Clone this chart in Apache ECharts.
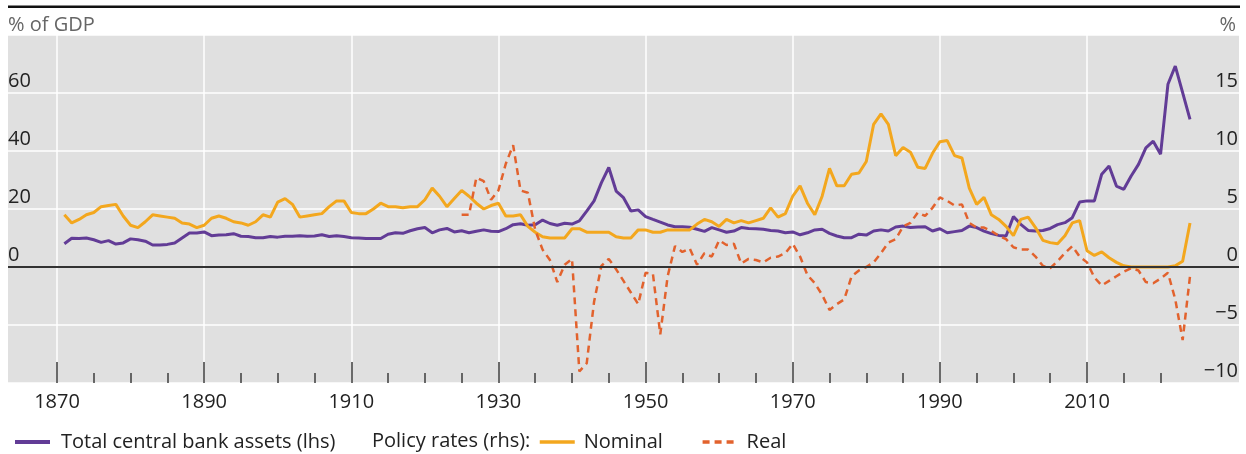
<!DOCTYPE html>
<html>
<head>
<meta charset="utf-8">
<script src="https://cdn.jsdelivr.net/npm/echarts@6/dist/echarts.min.js"></script>
<style>
  html, body { margin: 0; padding: 0; background: #fff; }
  #chart { width: 1246px; height: 454px; }
</style>
</head>
<body>
<div id="chart"></div>
<script>
// total central bank assets, % of GDP (lhs), annual from 1871
const assetsStart = 1871;
const assets = [
  8.0, 9.9, 9.8, 10.0, 9.4, 8.5, 9.1, 7.9, 8.3,                 // 1871-1879
  9.7, 9.4, 8.9, 7.6, 7.6, 7.8, 8.3, 10.0, 11.7, 11.7,          // 1880s
  12.1, 10.8, 11.0, 11.1, 11.5, 10.6, 10.5, 10.1, 10.1, 10.5,   // 1890s
  10.3, 10.6, 10.6, 10.8, 10.6, 10.7, 11.1, 10.5, 10.8, 10.5,   // 1900s
  10.1, 10.0, 9.8, 9.8, 9.8, 11.3, 11.8, 11.6, 12.5, 13.2,      // 1910s
  13.6, 11.8, 12.8, 13.3, 12.1, 12.5, 11.8, 12.3, 12.8, 12.3,   // 1920s
  12.2, 13.2, 14.6, 14.9, 14.4, 14.6, 16.2, 15.0, 14.4, 15.1,   // 1930s
  14.8, 15.9, 19.3, 22.8, 29.1, 34.3, 26.2, 23.9, 19.3, 19.7,   // 1940s
  17.4, 16.4, 15.5, 14.5, 13.9, 13.9, 13.7, 13.0, 12.3, 13.6,   // 1950s
  12.8, 12.0, 12.4, 13.6, 13.3, 13.2, 13.0, 12.6, 12.4, 11.8,   // 1960s
  12.1, 11.1, 11.8, 12.8, 13.0, 11.6, 10.7, 10.1, 10.1, 11.3,   // 1970s
  11.0, 12.4, 12.8, 12.4, 13.8, 14.1, 13.6, 13.8, 13.9, 12.4,   // 1980s
  13.2, 11.8, 12.2, 12.6, 14.1, 13.6, 12.4, 11.5, 10.9, 10.7,   // 1990s
  17.4, 14.7, 12.6, 12.4, 12.6, 13.3, 14.6, 15.3, 17.0, 22.4,   // 2000s
  22.8, 22.8, 32.0, 34.8, 27.9, 26.8, 31.4, 35.4, 41.1, 43.4,   // 2010s
  38.9, 63.0, 69.3, 60.1, 50.9                                  // 2020-2024
];

// nominal policy rate, % (rhs), annual from 1871
const nominalStart = 1871;
const nominal = [
  4.5, 3.8, 4.1, 4.5, 4.7, 5.2, 5.3, 5.4, 4.4,                  // 1871-1879
  3.6, 3.4, 3.9, 4.5, 4.4, 4.3, 4.2, 3.8, 3.7, 3.4,             // 1880s
  3.6, 4.2, 4.4, 4.2, 3.9, 3.8, 3.6, 3.9, 4.5, 4.3,             // 1890s
  5.6, 5.9, 5.4, 4.3, 4.4, 4.5, 4.6, 5.2, 5.7, 5.7,             // 1900s
  4.7, 4.6, 4.6, 5.0, 5.5, 5.2, 5.2, 5.1, 5.2, 5.2,             // 1910s
  5.8, 6.8, 6.1, 5.2, 5.9, 6.6, 6.1, 5.5, 5.0, 5.3,             // 1920s
  5.5, 4.4, 4.4, 4.5, 3.5, 3.0, 2.6, 2.5, 2.5, 2.5,             // 1930s
  3.3, 3.3, 3.0, 3.0, 3.0, 3.0, 2.6, 2.5, 2.5, 3.2,             // 1940s
  3.2, 3.0, 3.0, 3.2, 3.2, 3.2, 3.2, 3.7, 4.1, 3.9,             // 1950s
  3.5, 4.1, 3.8, 4.0, 3.8, 4.0, 4.2, 5.1, 4.3, 4.6,             // 1960s
  6.1, 7.0, 5.5, 4.5, 6.1, 8.5, 7.0, 7.0, 8.0, 8.1,             // 1970s
  9.1, 12.3, 13.2, 12.3, 9.6, 10.3, 9.9, 8.6, 8.5, 9.8,         // 1980s
  10.8, 10.9, 9.6, 9.4, 6.8, 5.4, 6.0, 4.5, 4.1, 3.5,           // 1990s
  2.7, 4.1, 4.3, 3.4, 2.3, 2.1, 2.0, 2.7, 3.8, 4.0,             // 2000s
  1.4, 1.0, 1.3, 0.8, 0.4, 0.1, 0.0, 0.0, 0.0, 0.0,             // 2010s
  0.0, 0.0, 0.1, 0.5, 3.8                                       // 2020-2024
];

// real policy rate, % (rhs), annual from 1925
const realStart = 1925;
const real = [
  4.5, 4.5, 7.7, 7.4, 5.8,                                      // 1925-1929
  6.6, 8.9, 10.5, 6.6, 6.4, 3.2, 1.5, 0.6, -1.3, 0.2,           // 1930s
  0.7, -9.0, -8.3, -3.0, 0.1, 0.7, -0.2, -1.2, -2.2, -3.2,      // 1940s
  -0.5, -0.6, -5.8, -0.8, 1.8, 1.3, 1.6, 0.2, 1.2, 0.9,         // 1950s
  2.3, 1.9, 2.0, 0.3, 0.7, 0.6, 0.4, 0.8, 0.9, 1.2,             // 1960s
  2.0, 0.9, -0.7, -1.4, -2.4, -3.7, -3.2, -2.8, -0.8, -0.3,     // 1970s
  0.0, 0.4, 1.2, 2.1, 2.4, 3.5, 3.8, 4.7, 4.4, 5.1,             // 1980s
  6.0, 5.7, 5.3, 5.4, 3.8, 3.4, 3.4, 3.1, 2.7, 2.4,             // 1990s
  1.7, 1.5, 1.5, 0.9, 0.1, -0.1, 0.5, 1.2, 1.8, 0.9,            // 2000s
  0.4, -0.9, -1.6, -1.2, -0.8, -0.4, -0.1, -0.3, -1.3, -1.4,    // 2010s
  -1.0, -0.5, -2.8, -6.3, -0.8                                  // 2020-2024
];

// axis ticks
const majorYears = [1870, 1890, 1910, 1930, 1950, 1970, 1990, 2010];
const minorYears = [1875, 1880, 1885, 1895, 1900, 1905, 1915, 1920, 1925,
  1935, 1940, 1945, 1955, 1960, 1965, 1975, 1980, 1985, 1995, 2000, 2005,
  2015, 2020];
const lhsLabels = [0, 20, 40, 60];
const rhsLabels = [-10, -5, 0, 5, 10, 15];

const withYears = (start, vals) => vals.map((v, i) => [start + i, v]);

const FONT = '"Open Sans", "Noto Sans", sans-serif';
const FS = 20;
const purple = '#623c96';
const yellow = '#f3a71e';
const orange = '#e2622d';

const chart = echarts.init(document.getElementById('chart'), null, { renderer: 'canvas' });

chart.setOption({
  animation: false,
  textStyle: { fontFamily: FONT },
  grid: {
    left: 8, right: 7, top: 35, bottom: 71,
    show: true, backgroundColor: '#e0e0e0', borderWidth: 0
  },
  xAxis: [
    {
      type: 'value', min: 1863.34, max: 2030.66,
      axisLine: { show: false, onZero: false },
      axisTick: {
        inside: true, length: 21, customValues: majorYears,
        lineStyle: { color: '#3c3c3c', width: 1.5 }
      },
      axisLabel: {
        customValues: majorYears, margin: 9,
        color: '#222', fontSize: FS, fontFamily: FONT,
        formatter: v => String(v)
      },
      splitLine: { show: true, lineStyle: { color: '#fff', width: 1.5 } }
    },
    {
      type: 'value', min: 1863.34, max: 2030.66, position: 'bottom',
      axisLine: { show: false, onZero: false },
      axisTick: {
        inside: true, length: 10, customValues: minorYears,
        lineStyle: { color: '#3c3c3c', width: 1.5 }
      },
      axisLabel: { show: false },
      splitLine: { show: false }
    }
  ],
  yAxis: [
    {
      type: 'value', min: -40, max: 80, interval: 20, position: 'left',
      name: '% of GDP', nameLocation: 'end', nameGap: 0,
      nameTextStyle: { align: 'left', color: '#666', fontSize: FS, fontFamily: FONT },
      axisLine: { show: false }, axisTick: { show: false },
      axisLabel: {
        inside: true, margin: 0, color: '#222', fontSize: FS, fontFamily: FONT,
        verticalAlign: 'bottom', lineHeight: 24,
        formatter: v => (lhsLabels.indexOf(v) >= 0 ? String(v) : '')
      },
      splitLine: { show: true, lineStyle: { color: '#fff', width: 1.5 } }
    },
    {
      type: 'value', min: -10, max: 20, interval: 5, position: 'right',
      name: '%', nameLocation: 'end', nameGap: 0,
      nameTextStyle: { align: 'right', color: '#666', fontSize: FS, fontFamily: FONT, padding: [0, 3, 0, 0] },
      axisLine: { show: false }, axisTick: { show: false },
      axisLabel: {
        inside: true, margin: 1, color: '#222', fontSize: FS, fontFamily: FONT,
        verticalAlign: 'bottom', lineHeight: 24,
        formatter: v => (rhsLabels.indexOf(v) >= 0 ? (v < 0 ? '\u2212' + Math.abs(v) : String(v)) : '')
      },
      splitLine: { show: false }
    }
  ],
  legend: [
    {
      data: ['Total central bank assets (lhs)'],
      left: 13, top: 432, padding: 0, itemWidth: 35, itemHeight: 14,
      itemStyle: { opacity: 0 }, lineStyle: { width: 4 },
      textStyle: { color: '#222', fontSize: FS, fontFamily: FONT, padding: [0, 0, 0, 6] }
    },
    {
      data: ['Nominal', 'Real'],
      left: 538, top: 432, padding: 0, itemWidth: 35, itemHeight: 14, itemGap: 38,
      itemStyle: { opacity: 0 }, lineStyle: { width: 3.5 },
      textStyle: { color: '#222', fontSize: FS, fontFamily: FONT, padding: [0, 0, 0, 4] }
    }
  ],
  graphic: [
    {
      type: 'rect', left: 8, top: 5.5,
      shape: { width: 1232, height: 2.5 },
      style: { fill: '#111' }
    },
    {
      type: 'text', left: 372, top: 431,
      style: { text: 'Policy rates (rhs):', fill: '#222', font: FS + 'px ' + FONT }
    }
  ],
  series: [
    {
      name: 'Total central bank assets (lhs)', type: 'line',
      xAxisIndex: 0, yAxisIndex: 0,
      data: withYears(assetsStart, assets),
      symbol: 'none', showSymbol: false,
      lineStyle: { color: purple, width: 3 }, itemStyle: { color: purple },
      markLine: {
        silent: true, symbol: ['none', 'none'], label: { show: false },
        lineStyle: { color: '#333', width: 2, type: 'solid' },
        data: [{ yAxis: 0 }]
      }
    },
    {
      name: 'Nominal', type: 'line',
      xAxisIndex: 0, yAxisIndex: 1,
      data: withYears(nominalStart, nominal),
      symbol: 'none', showSymbol: false,
      lineStyle: { color: yellow, width: 3 }, itemStyle: { color: yellow }
    },
    {
      name: 'Real', type: 'line',
      xAxisIndex: 0, yAxisIndex: 1,
      data: withYears(realStart, real),
      symbol: 'none', showSymbol: false,
      lineStyle: { color: orange, width: 2.5, type: [7, 5] }, itemStyle: { color: orange }
    }
  ]
});
</script>
</body>
</html>
